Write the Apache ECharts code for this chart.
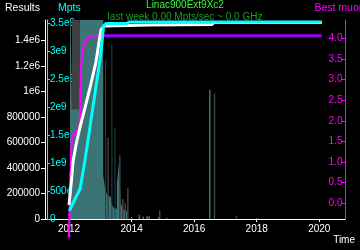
<!DOCTYPE html>
<html><head><meta charset="utf-8">
<script src="https://cdn.jsdelivr.net/npm/echarts@6/dist/echarts.min.js"></script>
<style>html,body{margin:0;padding:0;background:#000}#c{width:360px;height:250px}</style>
</head><body><div id="c"></div>
<script>
// ---- data ----
const titleText = 'Linac900Ext9Xc2';
const subText = 'last week 0.00 Mpts/sec ~ 0.0 GHz';
const xTicks = [2012, 2014, 2016, 2018, 2020];
const resultsTicks = [0, 200000, 400000, 600000, 800000, 1000000, 1200000, 1400000];
const mptsTicks = [0, 500e6, 1e9, 1.5e9, 2e9, 2.5e9, 3e9, 3.5e9];
const muonTicks = [0, 0.5, 1.0, 1.5, 2.0, 2.5, 3.0, 3.5, 4.0];

const resultsYears = [2012.000, 2012.032, 2012.080, 2012.128, 2012.224, 2012.352, 2012.511, 2012.671, 2012.863, 2012.959, 2013.023, 2013.119, 2014.589, 2016.570, 2016.634, 2020.076];
const resultsValues = [110000, 188000, 306000, 447000, 581000, 722000, 872000, 1029000, 1233000, 1390000, 1484000, 1515000, 1523000, 1527000, 1543000, 1543000];

const mptsYears = [2012.016, 2012.096, 2012.192, 2012.288, 2012.352, 2012.415, 2012.511, 2012.671, 2012.831, 2012.991, 2013.055, 2013.103, 2013.182, 2013.854, 2013.918, 2020.076];
const mptsValues = [1.43e8, 2.5e8, 3.58e8, 4.65e8, 5.37e8, 7.33e8, 1.056e9, 1.646e9, 2.254e9, 2.845e9, 3.167e9, 3.453e9, 3.498e9, 3.498e9, 3.524e9, 3.524e9];

const muonYears = [2012.000, 2012.016, 2012.032, 2012.048, 2012.064, 2012.096, 2012.160, 2012.256, 2012.336, 2012.352, 2012.368, 2012.384, 2012.447, 2012.543, 2012.671, 2012.991];
const muonValues = [-0.79, -0.28, 0.20, 0.69, 1.17, 1.61, 1.70, 1.75, 1.83, 2.14, 2.75, 3.35, 3.76, 3.96, 4.04, 4.06];

const bestYears = [2012.991, 2020.076];
const bestValues = [4.06, 4.06];

// activity histogram (percent of hidden axis), outline as bin edges
const tealEdgeYears = [2012.032, 2012.032, 2012.094, 2012.094, 2012.35, 2012.35, 2013.094, 2013.094, 2013.156, 2013.156, 2013.219, 2013.219, 2013.281, 2013.281, 2013.344, 2013.344, 2013.406, 2013.406, 2013.469, 2013.469, 2013.531, 2013.531, 2013.594, 2013.594, 2013.656, 2013.656, 2013.719, 2013.719, 2013.781, 2013.781, 2013.844, 2013.844, 2013.906, 2013.906];
const tealEdgeValues = [0, 120, 120, 55, 55, 120, 120, 22, 22, 15, 15, 12, 12, 11, 11, 9, 9, 6, 6, 5, 5, 18, 18, 28, 28, 8, 8, 5, 5, 4, 4, 3, 3, 0];
const grayEdgeYears = [2012.094, 2012.094, 2012.35, 2012.35];
const grayEdgeValues = [0, 120, 120, 0];
// isolated spikes
const tealYears = [2014.0, 2014.25, 2014.375, 2014.5, 2014.5625, 2014.875, 2015.125, 2016.5, 2018.0];
const tealValues = [1, 2, 1.2, 1.5, 1.2, 1, 0.5, 65, 0.5];
const grayYears = [2013.25, 2013.625, 2013.72, 2013.8, 2013.88, 2014.9, 2016.65, 2017.35];
const grayValues = [41, 32, 10, 8, 15.6, 4.5, 63, 1.5];
const darkYears = [2013.17, 2013.37, 2013.47];
const darkValues = [80, 88, 46];

// ---- chart ----
const zip = (a, b) => a.map((v, i) => [v, b[i]]);
const font = 'Liberation Sans';
const X_MIN = 2011.233, X_MAX = 2020.821;
const hiddenX = {type: 'value', min: X_MIN, max: X_MAX, show: false};
const TEAL = '#3a7474', GRAY = '#404040', DARK = '#1e4848';
const chart = echarts.init(document.getElementById('c'), null, {renderer: 'canvas'});
chart.setOption({
  backgroundColor: '#000',
  animation: false,
  textStyle: {fontFamily: font},
  title: {
    text: titleText, subtext: subText, left: 185, textAlign: 'center', top: 0, padding: 0, itemGap: 2,
    textStyle: {color: '#33ff33', fontSize: 10, fontWeight: 'normal', fontFamily: font},
    subtextStyle: {color: '#1f9a1f', fontSize: 10, fontFamily: font}
  },
  grid: {left: 45, right: 15, top: 20, bottom: 31, containLabel: false, outerBoundsMode: 'none'},
  xAxis: [{
    type: 'value', min: X_MIN, max: X_MAX,
    name: 'Time', nameLocation: 'end', nameGap: 10,
    nameTextStyle: {color: '#fff', fontSize: 10, align: 'right', verticalAlign: 'top', padding: [16, 0, 0, 0]},
    axisLine: {lineStyle: {color: '#fff'}},
    axisTick: {length: 3, lineStyle: {color: '#fff'}, customValues: xTicks},
    axisLabel: {color: '#fff', fontSize: 10, margin: 5, customValues: xTicks, formatter: v => String(v)},
    splitLine: {show: false}
  }, hiddenX, hiddenX, hiddenX],
  yAxis: [
    {
      type: 'value', position: 'left', min: 0, max: 1562500,
      name: 'Results', nameLocation: 'end', nameGap: 6,
      nameTextStyle: {color: '#fff', fontSize: 10.5, align: 'right', padding: [0, 5, 0, 0]},
      axisLine: {show: true, lineStyle: {color: '#fff'}},
      axisTick: {show: true, length: 4, lineStyle: {color: '#fff'}, customValues: resultsTicks},
      axisLabel: {color: '#fff', fontSize: 10, margin: 5, customValues: resultsTicks,
        formatter: v => v >= 1e6 ? (v / 1e6) + 'e6' : String(v)},
      splitLine: {show: false}
    },
    {
      type: 'value', position: 'left', offset: -2, min: 0, max: 3.56e9,
      name: 'Mpts', nameLocation: 'end', nameGap: 6,
      nameTextStyle: {color: '#00ffff', fontSize: 10.5, align: 'left', padding: [0, 0, 0, 11]},
      axisLine: {show: true, lineStyle: {color: '#00ffff'}},
      axisTick: {show: true, inside: true, length: 3, lineStyle: {color: '#00ffff'}, customValues: mptsTicks},
      axisLabel: {color: '#00ffff', fontSize: 10, inside: true, margin: 3, customValues: mptsTicks,
        formatter: v => v === 0 ? '0' : (v < 1e9 ? (v / 1e6) + 'e6' : (v / 1e9) + 'e9')},
      splitLine: {show: false}
    },
    {
      type: 'value', position: 'right', min: -0.38, max: 4.444,
      name: 'Best muon', nameLocation: 'end', nameGap: 6,
      nameTextStyle: {color: '#ff00ff', fontSize: 10.5, align: 'center', padding: [0, 11, 0, 0]},
      axisLine: {show: true, lineStyle: {color: '#ff00ff'}},
      axisTick: {show: true, inside: true, length: 4, lineStyle: {color: '#ff00ff'}, customValues: muonTicks},
      axisLabel: {color: '#ff00ff', fontSize: 10, inside: true, margin: 2.5, customValues: muonTicks,
        formatter: v => v.toFixed(1)},
      splitLine: {show: false}
    },
    {type: 'value', min: 0, max: 100, show: false}
  ],
  series: [
    {type: 'line', xAxisIndex: 1, yAxisIndex: 3, data: zip(grayEdgeYears, grayEdgeValues), showSymbol: false,
      lineStyle: {width: 0}, areaStyle: {color: GRAY, opacity: 1}, z: 1},
    {type: 'line', xAxisIndex: 2, yAxisIndex: 3, data: zip(tealEdgeYears, tealEdgeValues), showSymbol: false,
      lineStyle: {width: 0}, areaStyle: {color: TEAL, opacity: 1}, z: 1},
    {type: 'bar', xAxisIndex: 1, yAxisIndex: 3, data: zip(grayYears, grayValues), barWidth: 1.5,
      itemStyle: {color: GRAY}, z: 2},
    {type: 'bar', xAxisIndex: 2, yAxisIndex: 3, data: zip(tealYears, tealValues), barWidth: 1.5,
      itemStyle: {color: TEAL}, z: 2},
    {type: 'bar', xAxisIndex: 3, yAxisIndex: 3, data: zip(darkYears, darkValues), barWidth: 1,
      itemStyle: {color: DARK}, z: 2},
    {type: 'line', yAxisIndex: 2, data: zip(bestYears, bestValues), showSymbol: false,
      lineStyle: {color: '#9900ff', width: 3}, z: 3},
    {type: 'line', yAxisIndex: 2, data: zip(muonYears, muonValues), clip: false, symbol: 'circle', symbolSize: 3,
      itemStyle: {color: '#ff00ff'}, lineStyle: {color: '#ff00ff', width: 2}, z: 4},
    {type: 'line', yAxisIndex: 0, data: zip(resultsYears, resultsValues), showSymbol: false,
      lineStyle: {color: '#ffffff', width: 3}, z: 5},
    {type: 'line', yAxisIndex: 1, data: zip(mptsYears, mptsValues), showSymbol: false,
      lineStyle: {color: '#00ffff', width: 3}, z: 6}
  ]
});
</script>
</body></html>
